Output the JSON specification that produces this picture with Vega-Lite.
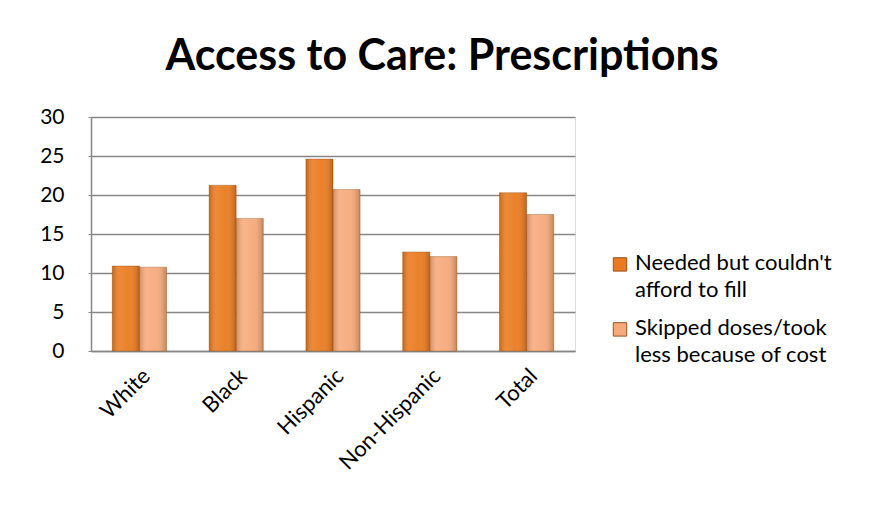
{
  "$schema": "https://vega.github.io/schema/vega-lite/v6.json",
  "autosize": "none",
  "width": 484,
  "height": 234,
  "padding": {"left": 91, "top": 117, "right": 311, "bottom": 178},
  "background": "white",
  "config": {"style": {"guide-label": {"lineHeight": 27}}},
  "title": {
    "text": "Access to Care: Prescriptions",
    "font": "Lato",
    "fontSize": 43,
    "fontWeight": "bold",
    "color": "#000000",
    "anchor": "middle",
    "dx": 109,
    "offset": 27
  },
  "data": {
    "values": [
      {"group": "White", "series": "Needed but couldn't afford to fill", "value": 10.9},
      {"group": "White", "series": "Skipped doses/took less because of cost", "value": 10.75},
      {"group": "Black", "series": "Needed but couldn't afford to fill", "value": 21.25},
      {"group": "Black", "series": "Skipped doses/took less because of cost", "value": 17.0},
      {"group": "Hispanic", "series": "Needed but couldn't afford to fill", "value": 24.6},
      {"group": "Hispanic", "series": "Skipped doses/took less because of cost", "value": 20.7},
      {"group": "Non-Hispanic", "series": "Needed but couldn't afford to fill", "value": 12.7},
      {"group": "Non-Hispanic", "series": "Skipped doses/took less because of cost", "value": 12.1},
      {"group": "Total", "series": "Needed but couldn't afford to fill", "value": 20.3},
      {"group": "Total", "series": "Skipped doses/took less because of cost", "value": 17.5}
    ]
  },
  "encoding": {
    "x": {
      "field": "group",
      "type": "nominal",
      "sort": null,
      "scale": {"paddingInner": 0.44, "paddingOuter": 0.22},
      "axis": {
        "title": null,
        "labelAngle": -45,
        "labelFont": "Lato",
        "labelFontSize": 22,
        "labelColor": "#000000",
        "labelPadding": 14,
        "domainColor": "#878787",
        "domainWidth": 1.5,
        "ticks": false,
        "grid": false
      }
    },
    "xOffset": {"field": "series", "type": "nominal", "sort": null},
    "y": {
      "field": "value",
      "type": "quantitative",
      "scale": {"domain": [0, 30]},
      "axis": {
        "title": null,
        "values": [0, 5, 10, 15, 20, 25, 30],
        "labelFont": "Lato",
        "labelFontSize": 21,
        "labelColor": "#000000",
        "labelPadding": 24,
        "domainColor": "#878787",
        "domainWidth": 1.5,
        "tickColor": "#878787",
        "tickSize": 3,
        "gridColor": "#878787",
        "gridWidth": 1.5
      }
    }
  },
  "layer": [
    {
      "mark": {"type": "bar", "stroke": "#8a4a14", "strokeWidth": 0.6, "strokeOpacity": 0.6},
      "encoding": {
        "color": {
          "field": "series",
          "type": "nominal",
          "sort": null,
          "scale": {"range": ["#ea7a1e", "#f6a97b"]},
          "legend": {
            "title": null,
            "orient": "none",
            "legendX": 518,
            "legendY": 125,
            "symbolType": "M-1,0.7H1V2.7H-1Z",
            "symbolSize": 180,
            "symbolStrokeColor": "#9a5520",
            "symbolStrokeWidth": 1,
            "labelFont": "Lato",
            "labelFontSize": 22,
            "labelColor": "#000000",
            "labelBaseline": "top",
            "labelLimit": 0,
            "labelOffset": 4,
            "labelExpr": "datum.label == 'Skipped doses/took less because of cost' ? ['Skipped doses/took', 'less because of cost'] : ['Needed but couldn\\'t', 'afford to fill']",
            "rowPadding": 6
          }
        }
      }
    },
    {
      "mark": {
        "type": "bar",
        "fill": {
          "x1": 0, "y1": 0, "x2": 1, "y2": 0,
          "gradient": "linear",
          "stops": [
            {"offset": 0, "color": "rgba(90,40,0,0.25)"},
            {"offset": 0.25, "color": "rgba(255,255,255,0.12)"},
            {"offset": 0.6, "color": "rgba(255,255,255,0.05)"},
            {"offset": 1, "color": "rgba(90,40,0,0.3)"}
          ]
        }
      }
    }
  ]
}
